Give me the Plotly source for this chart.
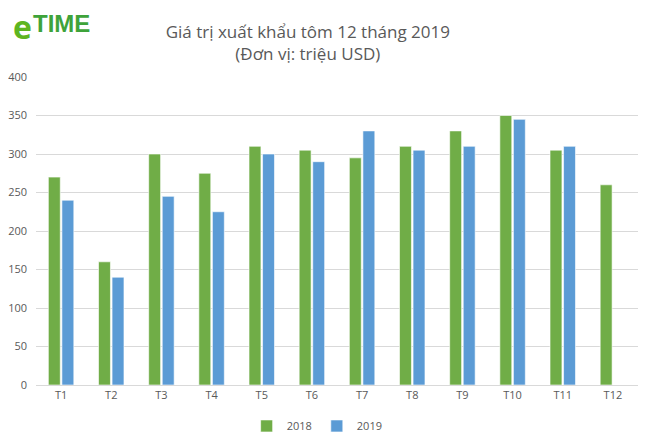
import plotly.graph_objects as go

months = ["T1", "T2", "T3", "T4", "T5", "T6", "T7", "T8", "T9", "T10", "T11", "T12"]
v2018 = [270, 160, 300, 275, 310, 305, 295, 310, 330, 350, 305, 260]
v2019 = [240, 140, 245, 225, 300, 290, 330, 305, 310, 345, 310, None]
y_ticks = [0, 50, 100, 150, 200, 250, 300, 350, 400]

GREEN = "#70AD47"
BLUE = "#5B9BD5"
TXT = "#595959"
FONT = "Open Sans"

fig = go.Figure()
fig.add_trace(go.Bar(x=months, y=v2018, name="2018", marker=dict(color=GREEN, line=dict(color="rgba(255,255,255,0.6)", width=1))))
fig.add_trace(go.Bar(x=months, y=v2019, name="2019", marker=dict(color=BLUE, line=dict(color="rgba(255,255,255,0.6)", width=1))))

fig.update_layout(
    width=642, height=434,
    margin=dict(l=28, r=12, t=69, b=57, autoexpand=False),
    paper_bgcolor="white", plot_bgcolor="white",
    barmode="group", bargap=0.46, bargroupgap=0.12,
    font=dict(family=FONT, color=TXT, size=11),
    title=dict(text="Giá trị xuất khẩu tôm 12 tháng 2019<br>(Đơn vị: triệu USD)",
               x=0.467, xanchor="center", y=0.931, yanchor="top",
               font=dict(family=FONT, size=17, color=TXT)),
    legend=dict(orientation="h", x=0.467, xanchor="center", y=-0.133, yanchor="middle",
                font=dict(size=11, color=TXT), itemwidth=30, traceorder="normal"),
    showlegend=True,
)
fig.update_xaxes(showgrid=False, showline=True, linecolor="#D9D9D9", ticks="", automargin=False,
                 tickfont=dict(size=11, color=TXT))
fig.update_yaxes(range=[0, 400], tickvals=y_ticks, showgrid=True, gridcolor="#D9D9D9", gridwidth=1, automargin=False,
                 zeroline=False, showline=False, ticks="", tickfont=dict(size=11, color=TXT), ticklabelstandoff=8)

# logo
fig.add_annotation(text="<b>e</b>", xref="paper", yref="paper", x=-0.04, y=1.163, xanchor="left", yanchor="middle",
                   showarrow=False, borderpad=0, font=dict(family=FONT, size=32, color="#5DB521"))
fig.add_annotation(text="<b>TIME</b>", xref="paper", yref="paper", x=-0.008, y=1.175, xanchor="left", yanchor="middle",
                   showarrow=False, font=dict(family="Liberation Sans", size=24, color="#3EA33A"))

fig.write_html("out.html")
